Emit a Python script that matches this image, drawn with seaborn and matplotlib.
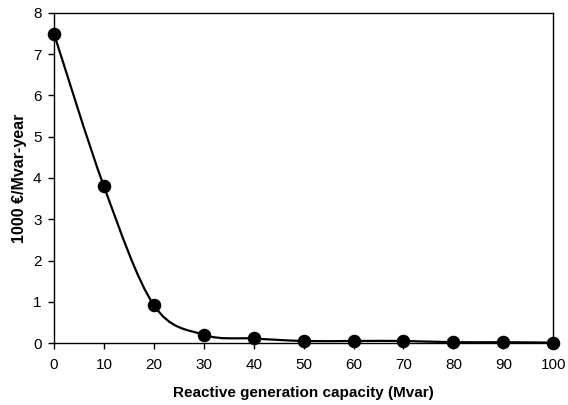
import numpy as np
import pandas as pd
import matplotlib
matplotlib.use("Agg")
import matplotlib.pyplot as plt
from matplotlib.path import Path
from matplotlib.patches import PathPatch
import seaborn as sns

# data
capacity = [0, 10, 20, 30, 40, 50, 60, 70, 80, 90, 100]
cost = [7.5, 3.8, 0.92, 0.2, 0.11, 0.05, 0.05, 0.05, 0.02, 0.02, 0.01]
x_ticks = [0, 10, 20, 30, 40, 50, 60, 70, 80, 90, 100]
y_ticks = [0, 1, 2, 3, 4, 5, 6, 7, 8]

df = pd.DataFrame({"capacity": capacity, "cost": cost})

sns.set_style("ticks")
plt.rcParams["font.family"] = ["Liberation Sans", "DejaVu Sans"]

fig = plt.figure(figsize=(5.68, 4.05), dpi=100)
ax = fig.add_axes([0.095, 0.153, 0.879, 0.815])


# smoothed line like a spreadsheet chart: cubic bezier through the points
def smooth_path(xs, ys, ax):
    pts = ax.transData.transform(np.column_stack([xs, ys]))
    n = len(pts)
    verts = [pts[0]]
    codes = [Path.MOVETO]
    for i in range(n - 1):
        p0 = pts[max(i - 1, 0)]
        p1 = pts[i]
        p2 = pts[i + 1]
        p3 = pts[min(i + 2, n - 1)]
        c1 = p1 + (p2 - p0) / 6.0
        c2 = p2 - (p3 - p1) / 6.0
        verts += [c1, c2, p2]
        codes += [Path.CURVE4] * 3
    verts = ax.transData.inverted().transform(np.array(verts))
    return Path(verts, codes)


ax.set_xlim(0, 100)
ax.set_ylim(0, 8)

patch = PathPatch(smooth_path(df["capacity"].values, df["cost"].values, ax),
                  facecolor="none", edgecolor="black", lw=1.6, clip_on=False, zorder=2)
ax.add_patch(patch)

sns.scatterplot(data=df, x="capacity", y="cost", ax=ax, color="black",
                s=95, edgecolor="black", linewidth=0, zorder=3, clip_on=False)

ax.set_xticks(x_ticks)
ax.set_yticks(y_ticks)
ax.tick_params(axis="both", labelsize=11, length=4, width=1, color="black",
               labelcolor="black", direction="out")
ax.tick_params(axis="x", pad=7)
ax.tick_params(axis="y", pad=5)
for s in ax.spines.values():
    s.set_visible(True)
    s.set_linewidth(1)
    s.set_color("black")

ax.set_xlabel("Reactive generation capacity (Mvar)", fontsize=11, fontweight="bold",
              labelpad=10, color="black")
ax.set_ylabel("1000 €/Mvar-year", fontsize=11.5, fontweight="bold", labelpad=4, color="black")

fig.savefig("out.png", dpi=100, facecolor="white")
